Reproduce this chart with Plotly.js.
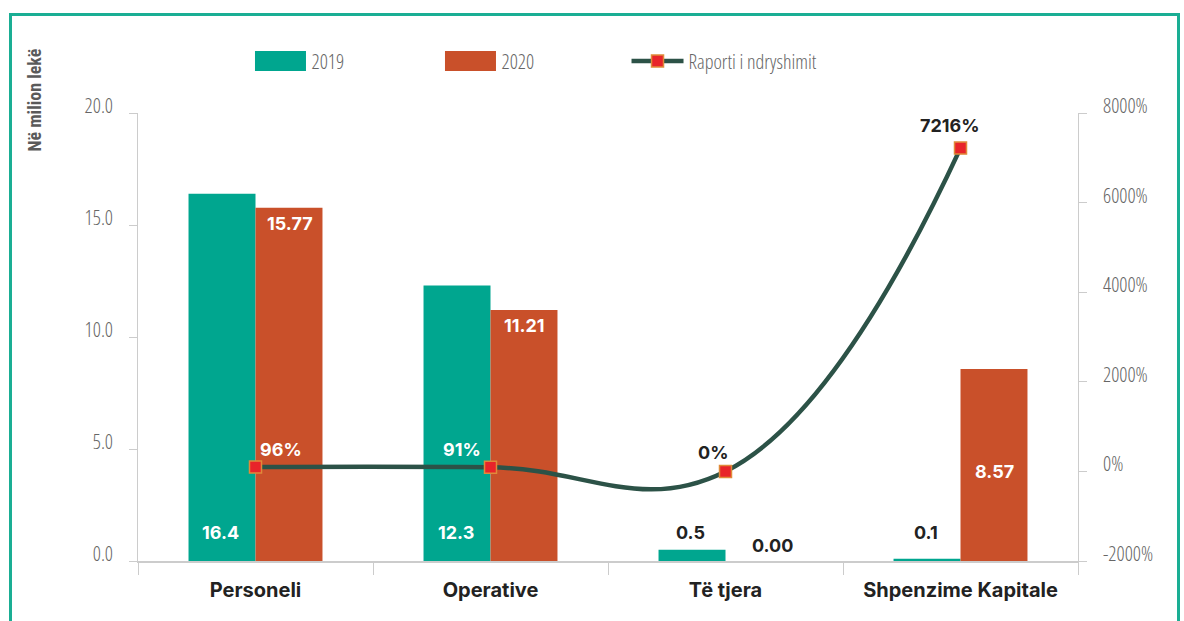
<!DOCTYPE html>
<html>
<head>
<meta charset="utf-8">
<script src="https://cdn.plot.ly/plotly-3.0.1.min.js"></script>
<style>
  html, body { margin:0; padding:0; background:#fff; width:1184px; height:621px; overflow:hidden; }
  #frame { position:absolute; left:9px; top:13px; width:1171px; height:700px; border:3px solid #1AAE94; box-sizing:border-box; }
  #chart { position:absolute; left:0; top:0; width:1184px; height:621px; }
  svg text { font-stretch: condensed; }
</style>
</head>
<body>
<div id="frame"></div>
<div id="chart"></div>
<script>
// ---- data ----
const categories = ['Personeli', 'Operative', 'Të tjera', 'Shpenzime Kapitale'];
const values2019 = [16.4, 12.3, 0.5, 0.1];
const values2020 = [15.77, 11.21, 0.00, 8.57];
const changeRatio = [96, 91, 0, 7216];
const labels2019 = ['16.4', '12.3', '0.5', '0.1'];
const labels2020 = ['15.77', '11.21', '0.00', '8.57'];
const ratioLabels = ['96%', '91%', '0%', '7216%'];
const leftTicks = [0, 5, 10, 15, 20];
const rightTicks = [-2000, 0, 2000, 4000, 6000, 8000];

// ---- styles ----
const C2019 = '#00A68F', C2020 = '#C9502A', CLINE = '#2C5247';
const condFamily = '"Open Sans", "Roboto Condensed", sans-serif';
const tickFont = {family: condFamily, size: 20, weight: 350, color: '#666666'};
const lblFamily = 'Inter, Roboto, "Open Sans", sans-serif';
const label2020Place = ['top', 'top', 'above', 'middle'];
const ratioShift = [[25, 18], [-29, 18], [-13, 19], [-11, 23]];
const ratioColor = ['#ffffff', '#ffffff', '#222222', '#222222'];

const traces = [
  {type: 'bar', name: '2019', x: categories, y: values2019, marker: {color: C2019}, legend: 'legend'},
  {type: 'bar', name: '2020', x: categories, y: values2020, marker: {color: C2020}, legend: 'legend'},
  {type: 'scatter', mode: 'lines+markers', name: 'Raporti i ndryshimit', x: categories, y: changeRatio, yaxis: 'y2',
   legend: 'legend2',
   line: {color: CLINE, width: 4.5, shape: 'spline', smoothing: 1.2},
   marker: {symbol: 'square', size: 12, color: '#E8242A', line: {color: '#E08A3A', width: 1.5}}}
];

const annotations = [];
categories.forEach((c, i) => {
  const inside = values2019[i] > 2;
  annotations.push({x: c, y: 0, xref: 'x', yref: 'y', text: labels2019[i], showarrow: false,
    xshift: -35, yshift: 29, yanchor: 'middle',
    font: {family: lblFamily, size: 18, weight: 700, color: inside ? '#ffffff' : '#222222'}});
  const p = label2020Place[i];
  let y = values2020[i], ys = -16, xs = 34, col = '#ffffff';
  if (p === 'above') { y = 0; ys = 16; xs = 47; col = '#222222'; }
  if (p === 'middle') { y = values2020[i] / 2; ys = -6; }
  annotations.push({x: c, y: y, xref: 'x', yref: 'y', text: labels2020[i], showarrow: false,
    xshift: xs, yshift: ys, yanchor: 'middle',
    font: {family: lblFamily, size: 18, weight: 700, color: col}});
  annotations.push({x: c, y: changeRatio[i], xref: 'x', yref: 'y2', text: ratioLabels[i], showarrow: false,
    xshift: ratioShift[i][0], yshift: ratioShift[i][1], yanchor: 'middle',
    font: {family: lblFamily, size: 18, weight: 700, color: ratioColor[i]}});
});
annotations.push({xref: 'paper', yref: 'paper', x: -0.1096, y: 1.03, text: 'Në milion lekë', textangle: -90,
  showarrow: false, xanchor: 'center', yanchor: 'middle',
  font: {family: 'Roboto, Inter, sans-serif', size: 18, weight: 700, color: '#5a5a5a'}});

const legendFont = {family: condFamily, size: 20, weight: 350, color: '#666666'};
const layout = {
  width: 1184, height: 621,
  margin: {l: 138, r: 106, t: 113, b: 60},
  paper_bgcolor: 'rgba(0,0,0,0)', plot_bgcolor: 'rgba(0,0,0,0)',
  barmode: 'group', bargap: 0.43, bargroupgap: 0,
  showlegend: true,
  legend: {orientation: 'h', x: 0.1186, xanchor: 'left', y: 1.116, yanchor: 'middle',
           font: legendFont, itemwidth: 52, entrywidth: 123, traceorder: 'normal', bgcolor: 'rgba(0,0,0,0)'},
  legend2: {orientation: 'h', x: 0.5197, xanchor: 'left', y: 1.116, yanchor: 'middle',
           font: legendFont, itemwidth: 52, bgcolor: 'rgba(0,0,0,0)'},
  xaxis: {type: 'category', range: [-0.5, 3.5], showline: true, linecolor: '#cccccc', linewidth: 2,
          ticks: 'outside', tickson: 'boundaries', ticklen: 12, tickcolor: '#cccccc', tickwidth: 1,
          showgrid: false, zeroline: false, ticklabelstandoff: 10,
          tickfont: {family: lblFamily, size: 20, weight: 700, color: '#222222'}},
  yaxis: {range: [0, 20], tickvals: leftTicks, ticktext: leftTicks.map(v => v.toFixed(1)),
          showline: true, linecolor: '#cccccc', linewidth: 1, ticks: 'outside', ticklen: 8, tickcolor: '#cccccc',
          showgrid: false, zeroline: false, tickfont: tickFont, ticklabelstandoff: 12, ticklabelshift: -7},
  yaxis2: {overlaying: 'y', side: 'right', range: [-2000, 8000], tickvals: rightTicks,
           ticktext: rightTicks.map(v => v + '%'),
           showline: true, linecolor: '#cccccc', linewidth: 1, ticks: 'outside', ticklen: 8, tickcolor: '#cccccc',
           showgrid: false, zeroline: false, tickfont: tickFont, ticklabelstandoff: 12, ticklabelshift: -7},
  annotations: annotations
};

function widenSwatches(gd) {
  // widen the bar legend swatches (non-marker paths inside legend points)
  gd.querySelectorAll('g.legendpoints path').forEach(p => {
    if (p.classList.contains('scatterpts')) return;
    const d = p.getAttribute('d') || '';
    if (/^M6,6H-6V-6H6Z$/.test(d)) p.setAttribute('d', 'M25.5,10H-25.5V-10H25.5Z');
  });
}

Plotly.newPlot('chart', traces, layout, {displayModeBar: false, staticPlot: true}).then(gd => {
  widenSwatches(gd);
  setTimeout(() => widenSwatches(gd), 50);
});
</script>
</body>
</html>
